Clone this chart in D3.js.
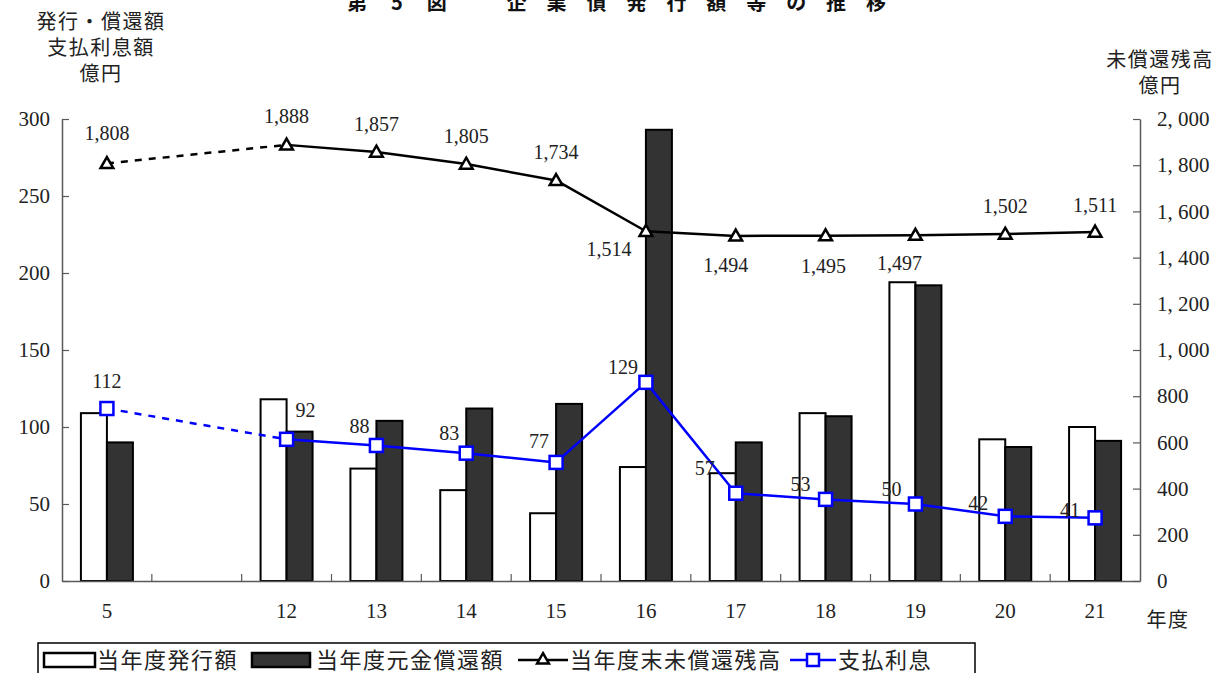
<!DOCTYPE html>
<html lang="ja">
<head>
<meta charset="utf-8">
<script src="https://cdn.jsdelivr.net/npm/d3@7"></script>
<style>
  html, body { margin: 0; padding: 0; background: #fff; }
  svg { display: block; }
  .jp { font-family: "Noto Sans CJK JP", "Noto Sans", sans-serif; }
  .num { font-family: "Liberation Serif", "DejaVu Serif", serif; }
</style>
</head>
<body>
<svg id="chart" width="1220" height="673"></svg>
<script>
// Fiscal years shown on the category axis ("" is an empty slot between 5 and 12)
const yearSlots = ["5", "", "12", "13", "14", "15", "16", "17", "18", "19", "20", "21"];
const years = ["5", "12", "13", "14", "15", "16", "17", "18", "19", "20", "21"];

// 当年度発行額 (億円)
const issued = [109, 118, 73, 59, 44, 74, 70, 109, 194, 92, 100];
// 当年度元金償還額 (億円)
const redeemed = [90, 97, 104, 112, 115, 293, 90, 107, 192, 87, 91];
// 当年度末未償還残高 (億円, right axis)
const outstanding = [1808, 1888, 1857, 1805, 1734, 1514, 1494, 1495, 1497, 1502, 1511];
// 支払利息 (億円, left axis)
const interest = [112, 92, 88, 83, 77, 129, 57, 53, 50, 42, 41];

// Axis ticks
const leftTicks = [0, 50, 100, 150, 200, 250, 300];
const rightTicks = [0, 200, 400, 600, 800, 1000, 1200, 1400, 1600, 1800, 2000];

// Label offsets (dx, dy) relative to each point
const outstandingLabelOffsets = [[0,-30],[0,-29],[0,-28],[0,-28],[0,-28],[-37,18],[-10,29],[-2,30],[-16,28],[0,-28],[0,-27]];
const interestLabelOffsets = [[0,-28],[19,-29],[-17,-19],[-17,-20],[-17,-21],[-23,-15],[-31,-25],[-25,-15],[-24,-15],[-27,-13],[-25,-8]];

const svg = d3.select("#chart");
const AXIS = "#595959";

const plot = { left: 62, right: 1140, top: 119, bottom: 581 };
const slotKeys = yearSlots.map((d, i) => d === "" ? "_gap" + i : d);
const x = d3.scaleBand().domain(slotKeys).range([plot.left, plot.right]).padding(0);
const yL = d3.scaleLinear().domain([0, 300]).range([plot.bottom, plot.top]);
const yR = d3.scaleLinear().domain([0, 2000]).range([plot.bottom, plot.top]);
const cx = d => x(d) + x.bandwidth() / 2;
const barW = 26;

// Title (bold, spaced characters)
const titleChars = ["第", "5", "図", "", "企", "業", "債", "発", "行", "額", "等", "の", "推", "移"];
const titleStep = d3.scaleLinear().domain([0, titleChars.length - 1]).range([357, 876]);
svg.append("g").selectAll("text").data(titleChars).join("text")
  .attr("class", "jp")
  .attr("x", (d, i) => titleStep(i))
  .attr("y", 10)
  .attr("text-anchor", "middle")
  .attr("font-size", 20)
  .attr("font-weight", 700)
  .attr("fill", "#111")
  .text(d => d);

// Axis titles
const leftTitle = ["発行・償還額", "支払利息額", "億円"];
svg.append("g").selectAll("text").data(leftTitle).join("text")
  .attr("class", "jp")
  .attr("x", 101).attr("y", (d, i) => 29 + i * 26)
  .attr("text-anchor", "middle").attr("font-size", 20).attr("letter-spacing", 1.5)
  .attr("fill", "#222")
  .text(d => d);
const rightTitle = ["未償還残高", "億円"];
svg.append("g").selectAll("text").data(rightTitle).join("text")
  .attr("class", "jp")
  .attr("x", 1160).attr("y", (d, i) => 67 + i * 26)
  .attr("text-anchor", "middle").attr("font-size", 20).attr("letter-spacing", 1.5)
  .attr("fill", "#222")
  .text(d => d);

// Bars
const bars = svg.append("g");
bars.selectAll("rect.issued").data(years).join("rect")
  .attr("class", "issued")
  .attr("x", d => cx(d) - barW).attr("width", barW)
  .attr("y", (d, i) => yL(issued[i]))
  .attr("height", (d, i) => yL(0) - yL(issued[i]))
  .attr("fill", "#fff").attr("stroke", "#000").attr("stroke-width", 2);
bars.selectAll("rect.redeemed").data(years).join("rect")
  .attr("class", "redeemed")
  .attr("x", d => cx(d)).attr("width", barW)
  .attr("y", (d, i) => yL(redeemed[i]))
  .attr("height", (d, i) => yL(0) - yL(redeemed[i]))
  .attr("fill", "#333").attr("stroke", "#000").attr("stroke-width", 2);

// Axes
const gL = svg.append("g").attr("transform", `translate(${plot.left},0)`)
  .call(d3.axisLeft(yL).tickValues(leftTicks).tickSize(-7).tickSizeOuter(0).tickPadding(12));
const gR = svg.append("g").attr("transform", `translate(${plot.right},0)`)
  .call(d3.axisRight(yR).tickValues(rightTicks).tickSize(-7).tickSizeOuter(0).tickPadding(17)
    .tickFormat(d => d3.format(",")(d).replace(",", ", ")));
const gB = svg.append("g").attr("transform", `translate(0,${plot.bottom})`)
  .call(d3.axisBottom(x).tickSize(0).tickSizeOuter(0).tickPadding(22)
    .tickFormat(d => d.startsWith("_gap") ? "" : d));
[gL, gR, gB].forEach(g => {
  g.select(".domain").attr("stroke", AXIS).attr("stroke-width", 1.5);
  g.selectAll(".tick line").attr("stroke", AXIS).attr("stroke-width", 1.2);
  g.selectAll(".tick text").attr("class", "num").attr("font-size", 21).attr("fill", "#222");
});
// Category separators on the bottom axis
svg.append("g").selectAll("line").data(slotKeys.slice(1)).join("line")
  .attr("x1", d => x(d)).attr("x2", d => x(d))
  .attr("y1", plot.bottom).attr("y2", plot.bottom - 7)
  .attr("stroke", AXIS).attr("stroke-width", 1.2);
svg.append("text").attr("class", "jp")
  .attr("x", 1168).attr("y", 627).attr("text-anchor", "middle")
  .attr("font-size", 20).attr("letter-spacing", 1.5).attr("fill", "#222").text("年度");

// Lines: dashed across the gap (5 → 12), solid afterwards
function drawSeries(values, yScale, color) {
  const pts = years.map((d, i) => [cx(d), yScale(values[i])]);
  const line = d3.line();
  svg.append("path").attr("d", line(pts.slice(0, 2)))
    .attr("fill", "none").attr("stroke", color).attr("stroke-width", 2.5)
    .attr("stroke-dasharray", "7,7");
  svg.append("path").attr("d", line(pts.slice(1)))
    .attr("fill", "none").attr("stroke", color).attr("stroke-width", 2.5)
    .attr("stroke-linejoin", "round");
  return pts;
}
const outPts = drawSeries(outstanding, yR, "#000");
const intPts = drawSeries(interest, yL, "#0000ff");

// Markers
svg.append("g").selectAll("path").data(outPts).join("path")
  .attr("transform", d => `translate(${d[0]},${d[1] + 1})`)
  .attr("d", d3.symbol(d3.symbolTriangle, 70))
  .attr("fill", "#fff").attr("stroke", "#000").attr("stroke-width", 2.5);
svg.append("g").selectAll("rect").data(intPts).join("rect")
  .attr("x", d => d[0] - 6.5).attr("y", d => d[1] - 6.5)
  .attr("width", 13).attr("height", 13)
  .attr("fill", "#fff").attr("stroke", "#0000ff").attr("stroke-width", 2.5);

// Value labels
svg.append("g").selectAll("text").data(outPts).join("text")
  .attr("class", "num")
  .attr("x", (d, i) => d[0] + outstandingLabelOffsets[i][0])
  .attr("y", (d, i) => d[1] + outstandingLabelOffsets[i][1])
  .attr("dy", "0.35em").attr("text-anchor", "middle")
  .attr("font-size", 20).attr("fill", "#222")
  .text((d, i) => d3.format(",")(outstanding[i]));
svg.append("g").selectAll("text").data(intPts).join("text")
  .attr("class", "num")
  .attr("x", (d, i) => d[0] + interestLabelOffsets[i][0])
  .attr("y", (d, i) => d[1] + interestLabelOffsets[i][1])
  .attr("dy", "0.35em").attr("text-anchor", "middle")
  .attr("font-size", 20).attr("fill", "#222")
  .text((d, i) => interest[i]);

// Legend
const legend = svg.append("g");
legend.append("rect").attr("x", 38).attr("y", 643).attr("width", 937).attr("height", 40)
  .attr("fill", "#fff").attr("stroke", "#000").attr("stroke-width", 1.5);
const ly = 660;
legend.append("rect").attr("x", 44).attr("y", ly - 7).attr("width", 51).attr("height", 14)
  .attr("fill", "#fff").attr("stroke", "#000").attr("stroke-width", 2.5);
legend.append("rect").attr("x", 252).attr("y", ly - 7).attr("width", 58).attr("height", 14)
  .attr("fill", "#333").attr("stroke", "#000").attr("stroke-width", 2.5);
legend.append("line").attr("x1", 518).attr("x2", 568).attr("y1", ly).attr("y2", ly)
  .attr("stroke", "#000").attr("stroke-width", 2.5);
legend.append("path").attr("transform", `translate(543,${ly})`)
  .attr("d", d3.symbol(d3.symbolTriangle, 60))
  .attr("fill", "#fff").attr("stroke", "#000").attr("stroke-width", 2.5);
legend.append("line").attr("x1", 790).attr("x2", 836).attr("y1", ly).attr("y2", ly)
  .attr("stroke", "#0000ff").attr("stroke-width", 2.5);
legend.append("rect").attr("x", 807).attr("y", ly - 6).attr("width", 12).attr("height", 12)
  .attr("fill", "#fff").attr("stroke", "#0000ff").attr("stroke-width", 2.5);
const legendLabels = ["当年度発行額", "当年度元金償還額", "当年度末未償還残高", "支払利息"];
const legendX = [97, 316, 570, 838];
legend.selectAll("text").data(legendLabels).join("text")
  .attr("class", "jp")
  .attr("x", (d, i) => legendX[i]).attr("y", ly).attr("dy", "0.36em")
  .attr("font-size", 22).attr("letter-spacing", 1.5).attr("fill", "#222")
  .text(d => d);
</script>
</body>
</html>
